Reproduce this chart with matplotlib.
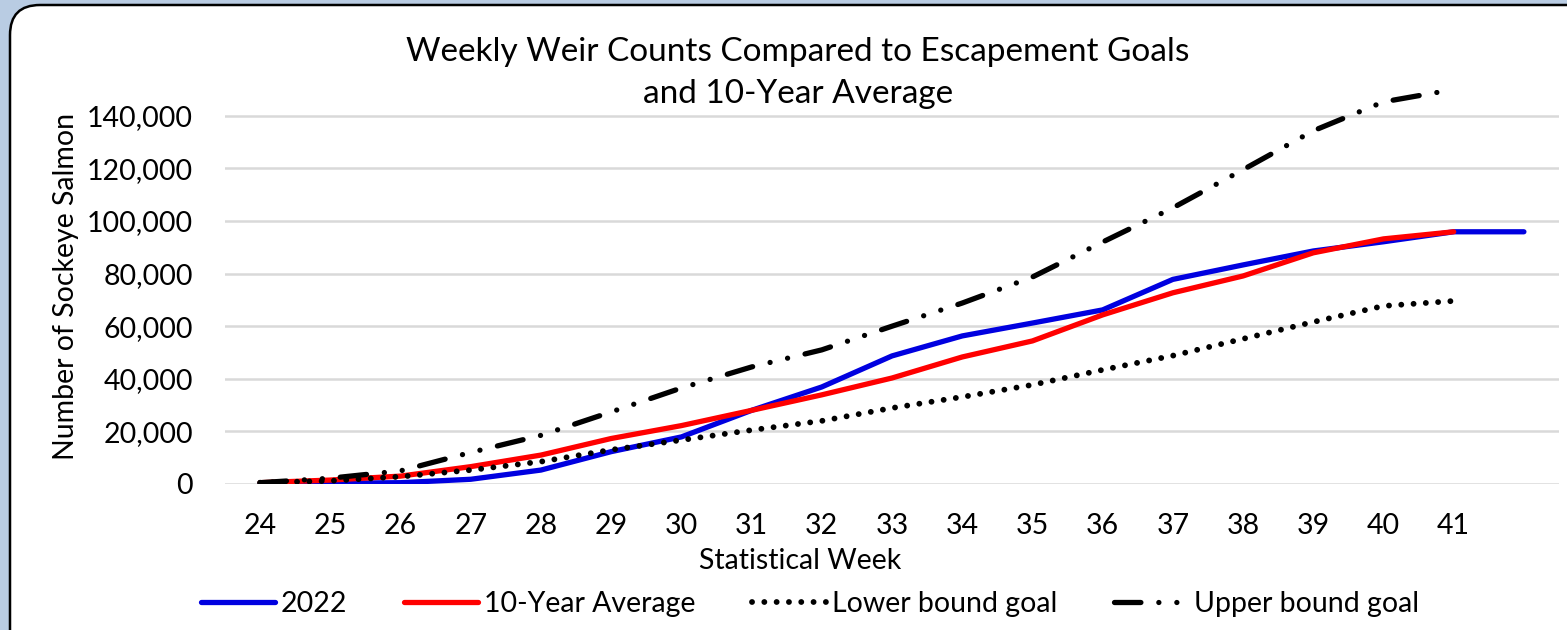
import numpy as np
from matplotlib import pyplot as plt
from matplotlib.patches import FancyBboxPatch
from matplotlib.ticker import FuncFormatter

weeks = ['24', '25', '26', '27', '28', '29', '30', '31', '32', '33',
         '34', '35', '36', '37', '38', '39', '40', '41', '']

# cumulative sockeye counts
count_2022 = [0, 300, 500, 1800, 5300, 12300, 17900, 28000, 36900, 48700,
              56300, 61200, 66200, 77800, 83300, 88600, 92100, 95900, 95900]
avg_10yr = [500, 1500, 3000, 6600, 11000, 17300, 22200, 28000, 33900, 40300,
            48300, 54400, 64300, 72700, 79100, 87900, 93200, 95900]
lower_goal = [500, 1200, 2800, 5300, 8500, 13000, 16700, 20500, 24000, 28900,
              33100, 37700, 43400, 48800, 55200, 61600, 67700, 69600]
upper_goal = [500, 2200, 5000, 12000, 18500, 27400, 36500, 44500, 51000, 60000,
              68800, 78700, 92000, 105000, 119500, 134300, 145300, 150000]

FONT = ['Lato', 'DejaVu Sans']
plt.rcParams['font.family'] = FONT
FS = 20.5
LW = 3.8

fig = plt.figure(figsize=(15.67, 6.3), dpi=100)
fig.patch.set_facecolor('#b9cce3')

# white rounded panel behind the chart (pixel coordinates)
panel = FancyBboxPatch((10, -40), 1620, 665,
                       boxstyle='round,pad=0,rounding_size=30',
                       transform=None, facecolor='white',
                       edgecolor='black', linewidth=1.8, zorder=0)
fig.patches.append(panel)

ax = fig.add_axes([225 / 1567, 1 - 484 / 630, (1559 - 225) / 1567, (484 - 89.5) / 630])
ax.set_zorder(2)
ax.set_facecolor('none')

x = np.arange(len(weeks))
ax.plot(x[:len(count_2022)], count_2022, color='#0000e0', linewidth=LW,
        solid_capstyle='round', label='2022', zorder=3)
ax.plot(x[:len(avg_10yr)], avg_10yr, color='#ff0000', linewidth=LW,
        solid_capstyle='round', label='10-Year Average', zorder=4)
ax.plot(x[:len(lower_goal)], lower_goal, color='black', linewidth=4.2,
        linestyle=(0, (0.01, 2.1)), dash_capstyle='round',
        label='Lower bound goal', zorder=5)
ax.plot(x[:len(upper_goal)], upper_goal, color='black', linewidth=LW,
        linestyle=(0, (5.0, 3.4, 0.01, 3.4, 0.01, 3.4)), dash_capstyle='round',
        label='Upper bound goal', zorder=6)

ax.set_xlim(-0.5, len(weeks) - 0.5)
ax.set_ylim(0, 150000)
ax.set_xticks(x)
ax.set_xticklabels(weeks)
ax.set_yticks(np.arange(0, 140001, 20000))
ax.yaxis.set_major_formatter(FuncFormatter(lambda v, p: f'{int(v):,}'))
ax.tick_params(length=0, labelsize=FS, colors='black')
ax.tick_params(axis='x', pad=21)
ax.tick_params(axis='y', pad=23)
ax.grid(axis='y', color='#d9d9d9', linewidth=1.8)
ax.set_axisbelow(True)
for s in ax.spines.values():
    s.set_visible(False)

ax.set_ylabel('Number of Sockeye Salmon', fontsize=FS, labelpad=6)
fig.text(800 / 1567, 1 - 561 / 630, 'Statistical Week', fontsize=FS,
         ha='center', va='center')

fig.text(0.509, 0.884, 'Weekly Weir Counts Compared to Escapement Goals\nand 10-Year Average',
         ha='center', va='center', fontsize=24, linespacing=1.5)

fig.legend(loc='center', bbox_to_anchor=(0.517, 0.041), ncol=4, frameon=False,
           fontsize=FS, handlelength=2.6, handletextpad=0.2, columnspacing=2.0)

fig.savefig('out.png', dpi=100, facecolor=fig.get_facecolor())
